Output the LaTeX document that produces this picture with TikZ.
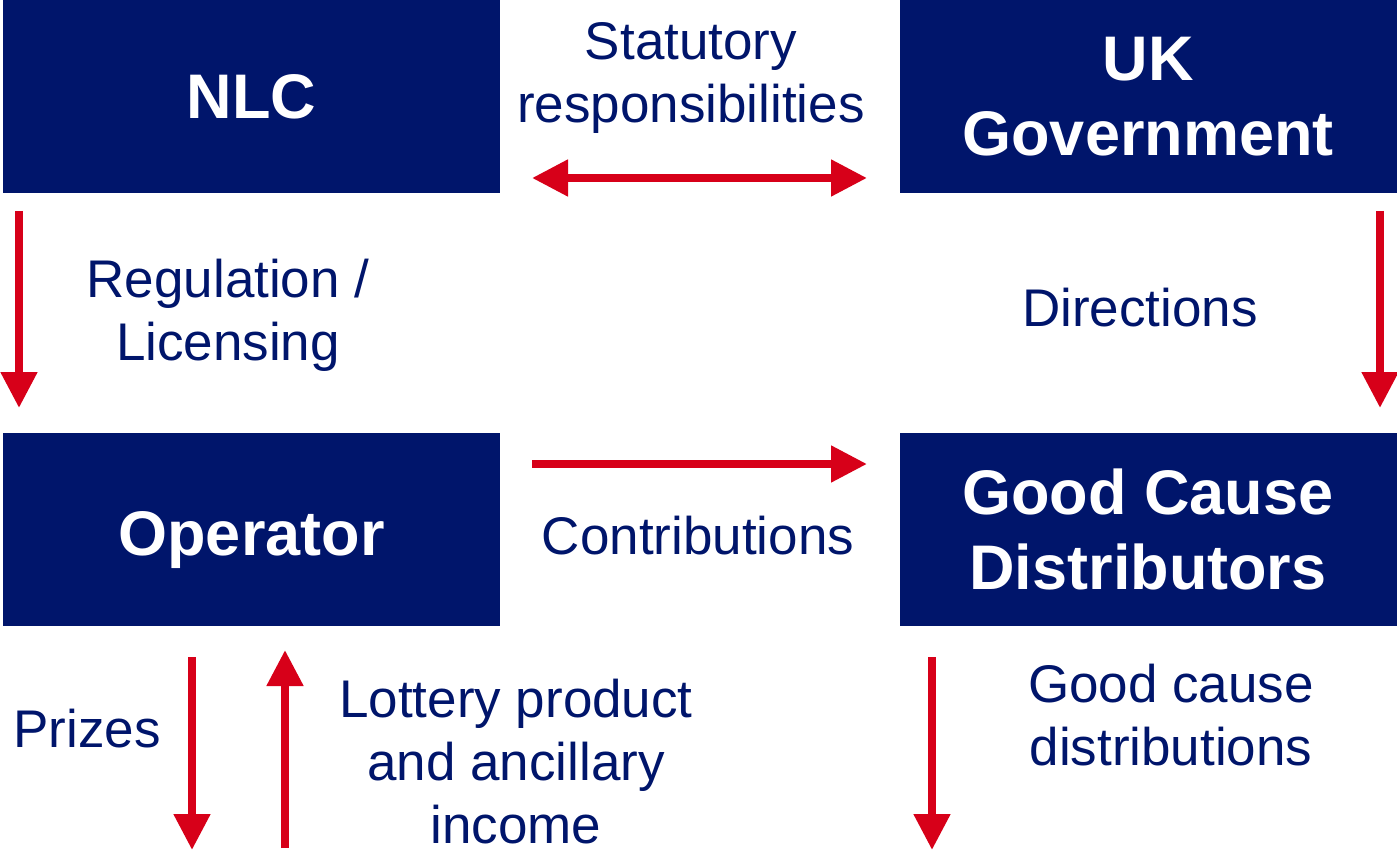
\documentclass[tikz,border=0pt]{standalone}
\usepackage{fontspec}
\setmainfont{Liberation Sans}
\usetikzlibrary{arrows.meta}
\definecolor{navy}{RGB}{0,21,107}
\definecolor{lred}{RGB}{215,0,25}
\tikzset{
  box/.style={fill=navy, draw=none, minimum width=497pt, minimum height=193pt, inner sep=0pt,
    text=white, font=\fontsize{63}{75}\selectfont\bfseries, align=center},
  lbl/.style={text=navy, font=\fontsize{53}{63}\selectfont, align=center, inner sep=0pt},
  redarrow/.style={draw=lred, line width=8pt, -{Triangle[length=36pt,width=35pt]}},
  redboth/.style={draw=lred, line width=8pt, {Triangle[length=36pt,width=35pt]}-{Triangle[length=36pt,width=35pt]}}
}
\begin{document}
\begin{tikzpicture}[x=1pt,y=-1pt]
\useasboundingbox (0,0) rectangle (1397,850);
\node[box] (nlc) at (251.5,96.5) {NLC};
\node[box] (ukg) at (1148,96.5) {UK\\Government};
\node[box] (op) at (251.5,529) {\raisebox{-26pt}[0pt][0pt]{Operator}};
\node[box] (gcd) at (1148,529) {Good Cause\\Distributors};

\node[lbl] (stat) at (691,78) {Statutory\\responsibilities};
\node[lbl] (reg) at (228,315) {Regulation /\\Licensing};
\node[lbl] (dir) at (1140,308) {Directions};
\node[lbl] (con) at (698,536) {Contributions};
\node[lbl] (pri) at (87,729) {Prizes};
\node[lbl] (lot) at (516,762) {Lottery product\\and ancillary\\income};
\node[lbl] (gcdist) at (1171,715) {Good cause\\distributions};

\coordinate (s1) at (532,178); \coordinate (s2) at (867,178);
\coordinate (r1) at (19,211); \coordinate (r2) at (19,408);
\coordinate (d1) at (1380,211); \coordinate (d2) at (1380,408);
\coordinate (c1) at (532,464); \coordinate (c2) at (867,464);
\coordinate (p1) at (192,657); \coordinate (p2) at (192,850);
\coordinate (l1) at (285,848); \coordinate (l2) at (285,650);
\coordinate (g1) at (932,657); \coordinate (g2) at (932,850);

\draw[redboth] (s1) -- (s2);
\draw[redarrow] (r1) -- (r2);
\draw[redarrow] (d1) -- (d2);
\draw[redarrow] (c1) -- (c2);
\draw[redarrow] (p1) -- (p2);
\draw[redarrow] (l1) -- (l2);
\draw[redarrow] (g1) -- (g2);
\end{tikzpicture}
\end{document}
